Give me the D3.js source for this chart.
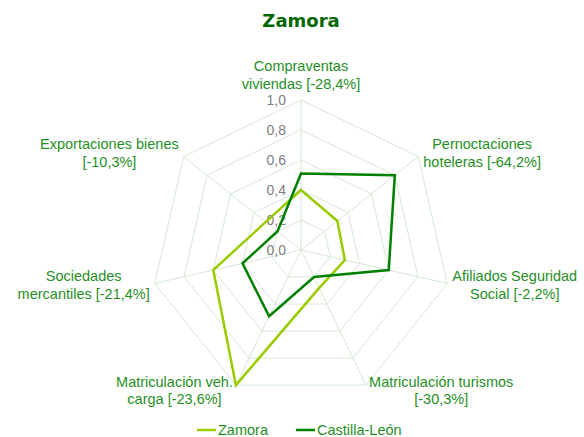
<!DOCTYPE html>
<html>
<head>
<meta charset="utf-8">
<script src="https://cdn.jsdelivr.net/npm/d3@7"></script>
<style>
  body { margin: 0; background: #fff; }
  svg { display: block; font-family: "Liberation Sans", Arial, sans-serif; }
</style>
</head>
<body>
<div id="chart"></div>
<script>
// axis labels (one array per axis, split over lines)
const axisLabels = [
    ["Compraventas", "viviendas [-28,4%]"],
    ["Pernoctaciones", "hoteleras [-64,2%]"],
    ["Afiliados Seguridad", "Social [-2,2%]"],
    ["Matriculación turismos", "[-30,3%]"],
    ["Matriculación veh.", "carga [-23,6%]"],
    ["Sociedades", "mercantiles [-21,4%]"],
    ["Exportaciones bienes", "[-10,3%]"]
];
const zamora   = [0.40, 0.31, 0.30, 0.28, 1.00, 0.60, 0.30];
const castilla = [0.51, 0.80, 0.60, 0.20, 0.49, 0.40, 0.20];
const ticks = [0, 0.2, 0.4, 0.6, 0.8, 1.0];
const seriesNames = ["Zamora", "Castilla-León"];
const seriesColors = ["#99cc00", "#008000"];

const width = 584, height = 437;
const cx = 301, cy = 250, radius = 150;
const gridColor = "#d3e9d3";
const labelColor = "#1f8f1f";

const svg = d3.select("#chart").append("svg")
    .attr("width", width)
    .attr("height", height);

// title
svg.append("text")
    .attr("x", cx)
    .attr("y", 27)
    .attr("text-anchor", "middle")
    .style("font-family", "'DejaVu Sans', sans-serif")
    .style("font-weight", "bold")
    .style("font-size", "18px")
    .style("fill", "#006600")
    .text("Zamora");

const n = axisLabels.length;
const angle = d3.scaleLinear().domain([0, n]).range([0, 2 * Math.PI]);
const r = d3.scaleLinear().domain([0, 1]).range([0, radius]);

function pt(i, v){
    const a = angle(i);
    return [cx + r(v) * Math.sin(a), cy - r(v) * Math.cos(a)];
}

const g = svg.append("g");

// grid polygons
g.selectAll(".grid")
    .data(ticks.filter(t => t > 0))
    .enter()
    .append("polygon")
    .attr("class", "grid")
    .attr("points", t => d3.range(n).map(i => pt(i, t).join(",")).join(" "))
    .attr("fill", "none")
    .attr("stroke", gridColor)
    .attr("stroke-width", 1);

// spokes
g.selectAll(".spoke")
    .data(d3.range(n))
    .enter()
    .append("line")
    .attr("class", "spoke")
    .attr("x1", cx).attr("y1", cy)
    .attr("x2", i => pt(i, 1)[0])
    .attr("y2", i => pt(i, 1)[1])
    .attr("stroke", gridColor)
    .attr("stroke-width", 1);

// tick labels
g.selectAll(".tick-label")
    .data(ticks)
    .enter()
    .append("text")
    .attr("class", "tick-label")
    .attr("x", cx - 15)
    .attr("y", t => cy - r(t))
    .attr("dy", "0.35em")
    .attr("text-anchor", "end")
    .style("font-size", "14px")
    .style("fill", "#808080")
    .text(t => d3.format(".1f")(t).replace(".", ","));

// series
const line = d3.line().curve(d3.curveLinearClosed);
[zamora, castilla].forEach(function(vals, k){
    g.append("path")
        .attr("d", line(vals.map((v, i) => pt(i, v))))
        .attr("fill", "none")
        .attr("stroke", seriesColors[k])
        .attr("stroke-width", 2.5)
        .attr("stroke-linejoin", "miter");
});

// axis labels: centred blocks, placed beside the outer vertex
const lineH = 17.7;
axisLabels.forEach(function(lines, i){
    const a = angle(i);
    const [vx, vy] = pt(i, 1);
    const s = Math.sin(a);
    const t = svg.append("text")
        .attr("text-anchor", "middle")
        .style("font-size", "14.5px")
        .style("fill", labelColor);
    lines.forEach((l, j) => t.append("tspan").attr("x", 0).attr("dy", j == 0 ? "0.35em" : lineH).text(l));
    const w = d3.max(t.selectAll("tspan").nodes(), d => d.getComputedTextLength());
    let x, midY;
    if (Math.abs(s) < 0.01){
        x = vx;
        midY = vy - 8 - lineH / 2 - 8;
    } else {
        const gap = Math.abs(s) > 0.6 ? 5 : 3;
        x = s > 0 ? vx + gap + w / 2 : vx - gap - w / 2;
        midY = vy - 6 * Math.cos(a);
    }
    const y0 = midY - lineH * (lines.length - 1) / 2;
    t.attr("transform", `translate(${x},${y0})`);
});

// legend
const legendX = [197, 296];
seriesNames.forEach(function(name, k){
    svg.append("line")
        .attr("x1", legendX[k]).attr("x2", legendX[k] + 19)
        .attr("y1", 430).attr("y2", 430)
        .attr("stroke", seriesColors[k])
        .attr("stroke-width", 2.5);
    svg.append("text")
        .attr("x", legendX[k] + 21)
        .attr("y", 430)
        .attr("dy", "0.35em")
        .style("font-size", "14.5px")
        .style("fill", labelColor)
        .text(name);
});
</script>
</body>
</html>
